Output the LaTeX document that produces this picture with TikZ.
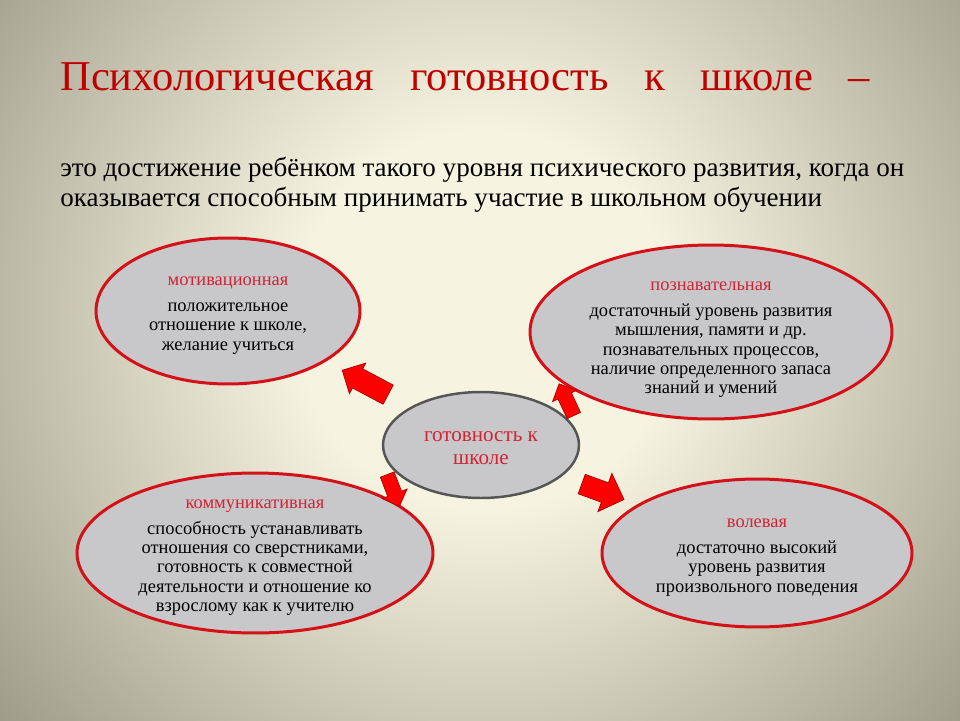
\documentclass[tikz,border=0pt]{standalone}
\usepackage{fontspec}
\setmainfont{Liberation Serif}
\usetikzlibrary{shapes.geometric, shapes.arrows}

\definecolor{titlered}{RGB}{192,0,0}
\definecolor{headred}{RGB}{208,36,52}
\definecolor{rimred}{RGB}{212,16,24}
\definecolor{partgray}{RGB}{200,200,203}
\definecolor{rimgray}{RGB}{85,85,85}
\definecolor{bgin}{RGB}{246,243,224}
\definecolor{bgout}{RGB}{150,147,130}
\definecolor{arrowred}{RGB}{255,0,0}
\definecolor{arrowrim}{RGB}{170,0,0}

\pgfdeclareradialshading{slidebg}{\pgfpoint{0cm}{0cm}}{color(0bp)=(bgin); color(7bp)=(bgin); color(25bp)=(bgout); color(50bp)=(bgout)}

\tikzset{
	part/.style = {ellipse, draw = rimred, line width = 1.7pt, fill = partgray, inner sep = 0pt},
	parttext/.style = {align = center, inner sep = 0pt, font = \fontsize{10.5}{11}\selectfont},
	push/.style = {single arrow, draw = arrowrim, thin, fill = arrowred, minimum width = 0pt,
		inner xsep = 0pt, inner ysep = 0.21cm, single arrow head extend = 0.13cm}
}

\begin{document}
\begin{tikzpicture}[x = 0.02cm, y = -0.02cm]

	% Background
	
	\useasboundingbox (0, 0) rectangle (960, 720);
	\begin{scope}
		\clip (0, 0) rectangle (960, 720);
		\shade [shading = slidebg] (485, 320) circle (13.5cm);
	\end{scope}

	% Title + lead
	
	\node [anchor = base west, inner sep = 0pt, text = titlered, font = \fontsize{24.2}{28}\selectfont] (title) at (60, 90)
		{\hbox to 16.2cm{Психологическая\hfill готовность\hfill к\hfill школе\hfill –}};
	\node [anchor = base west, inner sep = 0pt, align = left, font = \fontsize{15.4}{16.6}\selectfont] (lead) at (60, 206)
		{это достижение ребёнком такого уровня психического развития, когда он\\
		 оказывается способным принимать участие в школьном обучении};

	% Ellipses
	
	\node [part, minimum width = 5.28cm, minimum height = 2.92cm] (mot) at (228, 311) {};
	\node [part, minimum width = 7.24cm, minimum height = 3.48cm] (poz) at (711, 332) {};
	\node [part, draw = rimgray, line width = 1.4pt, minimum width = 3.92cm, minimum height = 2.12cm] (gotov) at (481, 445) {};
	\node [part, minimum width = 7.12cm, minimum height = 3.2cm] (kom) at (255, 553) {};
	\node [part, minimum width = 6.2cm, minimum height = 2.96cm] (vol) at (757, 553) {};

	\node [parttext, yshift = -0.09cm] (mot-text) at (mot)
		{\textcolor{headred}{мотивационная}\\[3.7pt] положительное\\ отношение к школе,\\ желание учиться};
	\node [parttext, yshift = -0.16cm] (poz-text) at (poz)
		{\textcolor{headred}{познавательная}\\[3.7pt] достаточный уровень развития\\ мышления, памяти и др.\\
		 познавательных процессов,\\ наличие определенного запаса\\ знаний и умений};
	\node [parttext, yshift = -0.07cm, text = headred, font = \fontsize{12}{13.2}\selectfont] (gotov-text) at (gotov)
		{готовность к\\ школе};
	\node [parttext, yshift = -0.09cm] (kom-text) at (kom)
		{\textcolor{headred}{коммуникативная}\\[3.7pt] способность устанавливать\\ отношения со сверстниками,\\
		 готовность к совместной\\ деятельности и отношение ко\\ взрослому как к учителю};
	\node [parttext, yshift = -0.09cm] (vol-text) at (vol)
		{\textcolor{headred}{волевая}\\[3.7pt] достаточно высокий\\ уровень развития\\ произвольного поведения};

	% Arrows
	
	\node [push, rotate = 152, minimum height = 1.04cm] (to-mot) at (370, 385) {};
	\node [push, rotate = 115, minimum height = 0.7cm, inner ysep = 0.14cm, single arrow head extend = 0.12cm] (to-poz) at (568, 403) {};
	\node [push, rotate = -69, minimum height = 0.68cm, inner ysep = 0.14cm, single arrow head extend = 0.12cm] (to-kom) at (392, 487) {};
	\node [push, rotate = -20, minimum height = 0.9cm, inner ysep = 0.2cm, single arrow head extend = 0.2cm] (to-vol) at (598, 490) {};

\end{tikzpicture}
\end{document}
